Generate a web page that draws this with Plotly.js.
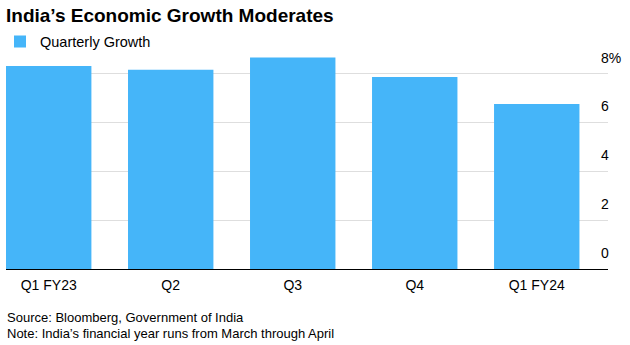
<!DOCTYPE html>
<html>
<head>
<meta charset="utf-8">
<script src="https://cdn.plot.ly/plotly-3.0.1.min.js"></script>
<style>html,body{margin:0;padding:0;background:#fff;}#chart{width:630px;height:345px;}</style>
</head>
<body>
<div id="chart"></div>
<script>
const quarters = ["Q1 FY23", "Q2", "Q3", "Q4", "Q1 FY24"];
const growth = [8.3, 8.15, 8.65, 7.85, 6.75];
const yTickVals = [0, 2, 4, 6, 8];
const yTickText = ["0", "2", "4", "6", "8%"];
const seriesName = "Quarterly Growth";
const titleText = "India’s Economic Growth Moderates";
const sourceText = "Source: Bloomberg, Government of India";
const noteText = "Note: India’s financial year runs from March through April";

const FONT = "'Liberation Sans', Arial, Helvetica, sans-serif";

const trace = {
  type: "bar",
  x: quarters.map((_, i) => i),
  y: growth,
  name: seriesName,
  marker: {color: "#45b5f9"},
  showlegend: true
};

const layout = {
  width: 630, height: 345,
  margin: {l: 6, r: 22, t: 49, b: 76, pad: 0, autoexpand: false},
  paper_bgcolor: "#fff", plot_bgcolor: "#fff",
  font: {family: FONT, size: 14, color: "#000"},
  bargap: 0.3,
  title: {
    text: "<b>" + titleText + "</b>",
    font: {family: FONT, size: 19, color: "#000"},
    x: 6 / 630, xanchor: "left", xref: "container",
    y: 1 - 15 / 345, yanchor: "middle", yref: "container"
  },
  showlegend: true,
  legend: {
    xref: "container", x: 0, xanchor: "left", y: 1.034, yanchor: "middle",
    orientation: "h", bgcolor: "rgba(0,0,0,0)", borderwidth: 0,
    font: {family: FONT, size: 14.5, color: "#000"},
    itemclick: false, itemdoubleclick: false
  },
  xaxis: {
    range: [-0.35, 4.584],
    tickvals: quarters.map((_, i) => i),
    ticktext: quarters,
    showline: true, linecolor: "#000", linewidth: 1,
    showgrid: false, zeroline: false,
    ticks: "",
    ticklabelstandoff: 3,
    tickfont: {family: FONT, size: 14, color: "#000"},
    fixedrange: true
  },
  yaxis: {
    side: "right",
    range: [0, 9],
    tickvals: yTickVals,
    ticktext: yTickText,
    showgrid: true, gridcolor: "#dedede", gridwidth: 1,
    zeroline: false, showline: false,
    ticks: "",
    ticklabelposition: "outside top",
    ticklabelshift: -6,
    ticklabelstandoff: -8,
    tickfont: {family: FONT, size: 14, color: "#000"},
    fixedrange: true
  },
  annotations: [
    {text: sourceText, xref: "paper", yref: "paper", x: -0.002, y: -0.2227,
     xanchor: "left", yanchor: "middle", showarrow: false, align: "left",
     font: {family: FONT, size: 13, color: "#000"}},
    {text: noteText, xref: "paper", yref: "paper", x: -0.002, y: -0.2932,
     xanchor: "left", yanchor: "middle", showarrow: false, align: "left",
     font: {family: FONT, size: 13, color: "#000"}}
  ],
  hovermode: false
};

Plotly.newPlot("chart", [trace], layout, {displayModeBar: false, staticPlot: true});
</script>
</body>
</html>
